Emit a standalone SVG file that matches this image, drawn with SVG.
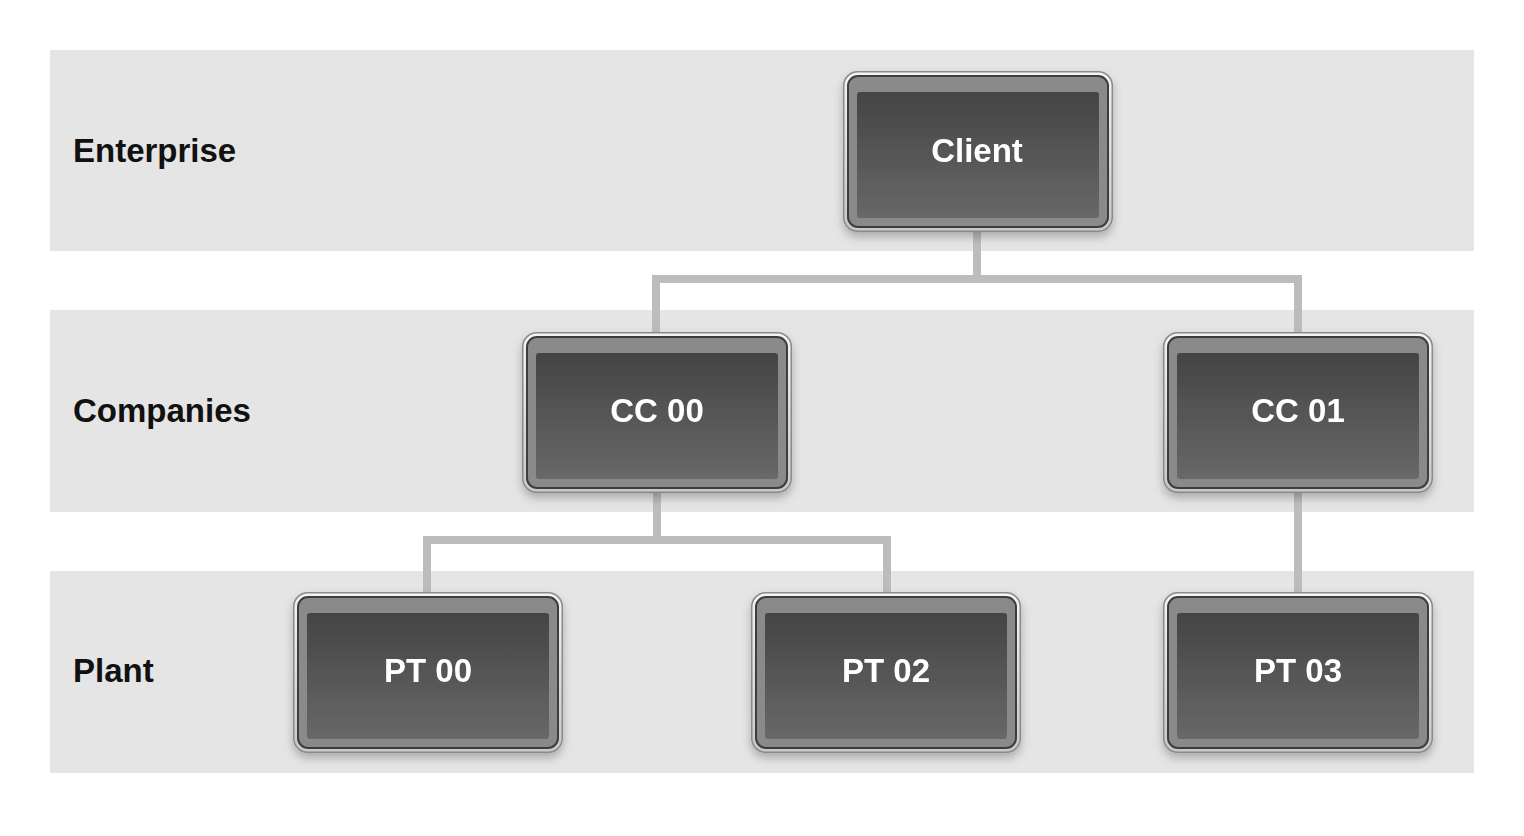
<svg xmlns="http://www.w3.org/2000/svg" width="1524" height="836" viewBox="0 0 1524 836">
<style>
.band{fill:#e5e5e5}
.lbl{font-family:"Liberation Sans",Arial,sans-serif;font-weight:bold;font-size:33px;fill:#111}
.ntxt{font-family:"Liberation Sans",Arial,sans-serif;font-weight:bold;font-size:33px;fill:#fff;text-anchor:middle}
.conn{fill:none;stroke:#bcbcbc;stroke-width:8}
.ring{fill:url(#ringG);stroke:#8a8a8a;stroke-width:1.5}
.frame{fill:#8a8a8a;stroke:#3e3e3e;stroke-width:2}
.panel{fill:url(#panelG)}
</style>
<defs>
<linearGradient id="ringG" x1="0" y1="0" x2="0" y2="1">
<stop offset="0" stop-color="#f4f4f4"/>
<stop offset="1" stop-color="#c8c8c8"/>
</linearGradient>
<linearGradient id="panelG" x1="0" y1="0" x2="0" y2="1">
<stop offset="0" stop-color="#444"/>
<stop offset="1" stop-color="#686868"/>
</linearGradient>
<filter id="sh" x="-10%" y="-10%" width="120%" height="130%">
<feDropShadow dx="0" dy="5" stdDeviation="5" flood-color="#000" flood-opacity="0.25"/>
</filter>
<g id="nodeShape">
<rect class="ring" x="0.75" y="0.75" width="268.5" height="159.5" rx="14"/>
<rect class="frame" x="5" y="5" width="260" height="151" rx="10"/>
<rect class="panel" x="14" y="21" width="242" height="126" rx="3"/>
</g>
</defs>
<rect width="1524" height="836" fill="#fff"/>
<g id="bands">
<rect class="band" x="50" y="50" width="1424" height="201"/>
<rect class="band" x="50" y="310" width="1424" height="202"/>
<rect class="band" x="50" y="571" width="1424" height="202"/>
<text class="lbl" x="73" y="162">Enterprise</text>
<text class="lbl" x="73" y="422">Companies</text>
<text class="lbl" x="73" y="682">Plant</text>
</g>
<g id="connectors">
<path class="conn" d="M977 230 V279 M656 332 V279 H1298 V332"/>
<path class="conn" d="M657 490 V540 M427 592 V540 H887 V592"/>
<path class="conn" d="M1298 490 V592"/>
</g>
<g id="client" filter="url(#sh)"><use href="#nodeShape" x="843" y="71"/><text class="ntxt" x="977" y="162">Client</text></g>
<g id="cc00" filter="url(#sh)"><use href="#nodeShape" x="522" y="332"/><text class="ntxt" x="657" y="422">CC 00</text></g>
<g id="cc01" filter="url(#sh)"><use href="#nodeShape" x="1163" y="332"/><text class="ntxt" x="1298" y="422">CC 01</text></g>
<g id="pt00" filter="url(#sh)"><use href="#nodeShape" x="293" y="592"/><text class="ntxt" x="428" y="682">PT 00</text></g>
<g id="pt02" filter="url(#sh)"><use href="#nodeShape" x="751" y="592"/><text class="ntxt" x="886" y="682">PT 02</text></g>
<g id="pt03" filter="url(#sh)"><use href="#nodeShape" x="1163" y="592"/><text class="ntxt" x="1298" y="682">PT 03</text></g>
</svg>
